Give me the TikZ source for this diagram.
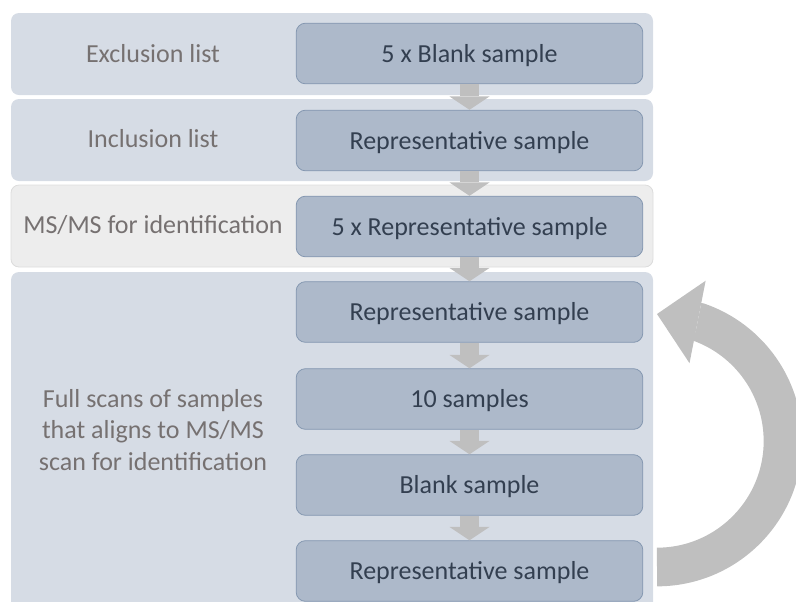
\documentclass[tikz,border=0pt]{standalone}
\usepackage{fontspec}
\setmainfont{Carlito}
\usetikzlibrary{arrows.meta}
\definecolor{bandblue}{HTML}{D6DCE5}
\definecolor{bandgrey}{HTML}{EDEDED}
\definecolor{bandline}{HTML}{DCDCDC}
\definecolor{boxfill}{HTML}{ADB9CA}
\definecolor{boxline}{HTML}{8497B0}
\definecolor{boxtext}{HTML}{333F50}
\definecolor{labeltext}{HTML}{767171}
\definecolor{arrowgrey}{HTML}{BFBFBF}

\begin{document}
\begin{tikzpicture}[x=0.75pt, y=-0.75pt,
    band/.style={fill=bandblue, rounded corners=6pt},
    sample/.style={draw=boxline, fill=boxfill, line width=0.6pt, rounded corners=7pt,
        minimum width=260pt, minimum height=45.5pt, inner sep=0pt,
        text height=18.6pt, text depth=5.2pt,
        text=boxtext, font=\fontsize{19.5}{23.4}\selectfont},
    phase/.style={text=labeltext, align=center, inner sep=0pt,
        text height=18.6pt, text depth=5.2pt,
        font=\fontsize{19.5}{23.4}\selectfont},
    next/.style={arrowgrey, line width=14pt, -{Triangle[width=30pt, length=10pt, line width=0pt]}},
    loopback/.style={arrowgrey, line width=29pt, -{Triangle[width=63pt, length=31pt, line width=0pt]}}]
    \useasboundingbox (0,0) rectangle (796,601);

    % background bands
    \fill[band] (11,13) rectangle (653,95);
    \fill[band] (11,99) rectangle (653,181);
    \filldraw[band, fill=bandgrey, draw=bandline, line width=0.6pt] (11,185) rectangle (653,267);
    \fill[band] (11,272) rectangle (653,620);

    % phase labels
    \node[phase] (excl) at (153,54) {Exclusion list};
    \node[phase] (incl) at (153,139) {Inclusion list};
    \node[phase] (ident) at (153,225) {MS/MS for identification};
    \node[phase, text height=, text depth=] (full) at (153,430) {Full scans of samples\\that aligns to MS/MS\\scan for identification};

    % samples
    \node[sample] (blank5) at (469.5,53.5) {5 x Blank sample};
    \node[sample] (rep1) at (469.5,140.5) {Representative sample};
    \node[sample] (rep5) at (469.5,226.5) {5 x Representative sample};
    \node[sample] (rep2) at (469.5,312) {Representative sample};
    \node[sample] (ten) at (469.5,399) {10 samples};
    \node[sample] (blank) at (469.5,485) {Blank sample};
    \node[sample] (rep3) at (469.5,571) {Representative sample};

    % arrows
    \draw[next] (blank5) -- (rep1);
    \draw[next] (rep1) -- (rep5);
    \draw[next] (rep5) -- (rep2);
    \draw[next] (rep2) -- (ten);
    \draw[next] (ten) -- (blank);
    \draw[next] (blank) -- (rep3);

    % loop back to the first representative sample
    \coordinate (loopfrom) at (657,567);
    \coordinate (loopto) at (657,314);
    \draw[loopback] (loopfrom) arc[start angle=90, end angle=-70.5, radius=126] -- (loopto);
\end{tikzpicture}
\end{document}
